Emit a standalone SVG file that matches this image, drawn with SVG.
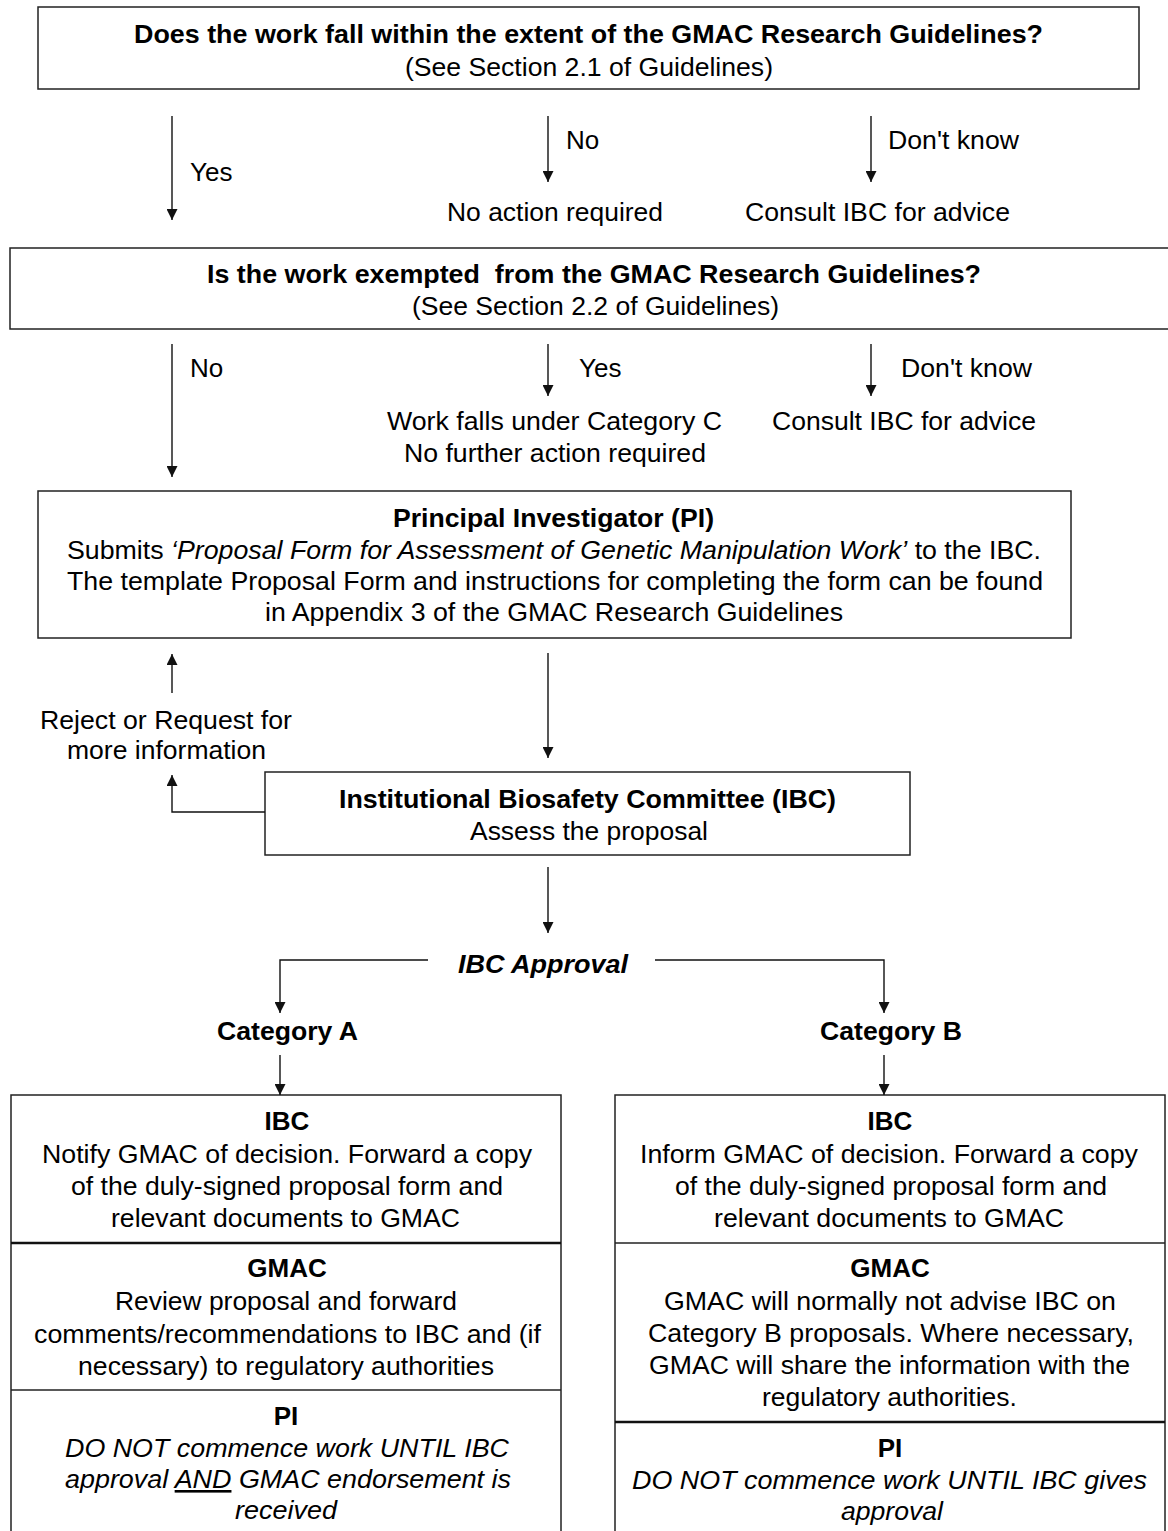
<svg xmlns="http://www.w3.org/2000/svg" width="1168" height="1531" viewBox="0 0 1168 1531">
<style>
  text { font-family: "Liberation Sans", Arial, sans-serif; font-size: 26px; fill: #000; white-space: pre; }
  .b { font-weight: bold; }
  .i { font-style: italic; }
  .m { text-anchor: middle; }
  .box { fill: #fff; stroke: #222; stroke-width: 1.5; }
  .div { stroke: #222; stroke-width: 1.5; }
  .thick { stroke: #111; stroke-width: 2.5; }
  .c { fill: none; stroke: #111; stroke-width: 1.4; }
</style>
<defs>
  <marker id="ah" viewBox="0 0 12 12" refX="12" refY="6" markerWidth="12" markerHeight="11" markerUnits="userSpaceOnUse" orient="auto">
    <path d="M0,0 L12,6 L0,12 z" fill="#111"/>
  </marker>
</defs>
<rect width="1168" height="1531" fill="#fff"/>

<g id="q1">
  <rect class="box" x="38" y="7" width="1101" height="82"/>
  <text class="b m" x="588.5" y="43" textLength="909" lengthAdjust="spacingAndGlyphs">Does the work fall within the extent of the GMAC Research Guidelines?</text>
  <text class="m" x="589" y="76" textLength="368" lengthAdjust="spacingAndGlyphs">(See Section 2.1 of Guidelines)</text>
</g>

<g id="q1-noaction">
  <text class="m" x="555" y="221" textLength="216" lengthAdjust="spacingAndGlyphs">No action required</text>
</g>
<g id="q1-consult">
  <text class="m" x="877.5" y="221" textLength="265" lengthAdjust="spacingAndGlyphs">Consult IBC for advice</text>
</g>

<g id="q2">
  <rect class="box" x="10" y="248" width="1170" height="81"/>
  <text class="b m" x="594" y="283" textLength="774" lengthAdjust="spacingAndGlyphs">Is the work exempted  from the GMAC Research Guidelines?</text>
  <text class="m" x="595.5" y="315" textLength="367" lengthAdjust="spacingAndGlyphs">(See Section 2.2 of Guidelines)</text>
</g>

<g id="q2-catc">
  <text class="m" x="554.5" y="430" textLength="335" lengthAdjust="spacingAndGlyphs">Work falls under Category C</text>
  <text class="m" x="555" y="462" textLength="302" lengthAdjust="spacingAndGlyphs">No further action required</text>
</g>
<g id="q2-consult">
  <text class="m" x="904" y="430" textLength="264" lengthAdjust="spacingAndGlyphs">Consult IBC for advice</text>
</g>

<g id="pi">
  <rect class="box" x="38" y="491" width="1033" height="147"/>
  <text class="b m" x="553.5" y="527" textLength="321" lengthAdjust="spacingAndGlyphs">Principal Investigator (PI)</text>
  <text class="m" x="554" y="559" textLength="974" lengthAdjust="spacingAndGlyphs">Submits <tspan class="i">‘Proposal Form for Assessment of Genetic Manipulation Work’</tspan> to the IBC.</text>
  <text class="m" x="555" y="590" textLength="976" lengthAdjust="spacingAndGlyphs">The template Proposal Form and instructions for completing the form can be found</text>
  <text class="m" x="554" y="621" textLength="578" lengthAdjust="spacingAndGlyphs">in Appendix 3 of the GMAC Research Guidelines</text>
</g>

<g id="reject">
  <text class="m" x="166" y="729" textLength="252" lengthAdjust="spacingAndGlyphs">Reject or Request for</text>
  <text class="m" x="166.5" y="759" textLength="199" lengthAdjust="spacingAndGlyphs">more information</text>
</g>

<g id="ibc">
  <rect class="box" x="265" y="772" width="645" height="83"/>
  <text class="b m" x="587.5" y="808" textLength="497" lengthAdjust="spacingAndGlyphs">Institutional Biosafety Committee (IBC)</text>
  <text class="m" x="589" y="840" textLength="238" lengthAdjust="spacingAndGlyphs">Assess the proposal</text>
</g>

<g id="approval">
  <text class="b i m" x="543" y="973" textLength="170" lengthAdjust="spacingAndGlyphs">IBC Approval</text>
</g>
<g id="cat-a">
  <text class="b m" x="287.5" y="1040" textLength="141" lengthAdjust="spacingAndGlyphs">Category A</text>
</g>
<g id="cat-b">
  <text class="b m" x="891" y="1040" textLength="142" lengthAdjust="spacingAndGlyphs">Category B</text>
</g>

<g id="box-a">
  <rect class="box" x="11" y="1095" width="550" height="445"/>
  <line class="thick" x1="11" y1="1243" x2="561" y2="1243"/>
  <line class="div" x1="11" y1="1390" x2="561" y2="1390"/>
  <text class="b m" x="287" y="1130">IBC</text>
  <text class="m" x="287" y="1163" textLength="490" lengthAdjust="spacingAndGlyphs">Notify GMAC of decision. Forward a copy</text>
  <text class="m" x="287" y="1195" textLength="432" lengthAdjust="spacingAndGlyphs">of the duly-signed proposal form and</text>
  <text class="m" x="285.5" y="1227" textLength="349" lengthAdjust="spacingAndGlyphs">relevant documents to GMAC</text>
  <text class="b m" x="287" y="1277">GMAC</text>
  <text class="m" x="286" y="1310" textLength="342" lengthAdjust="spacingAndGlyphs">Review proposal and forward</text>
  <text class="m" x="287.5" y="1343" textLength="507" lengthAdjust="spacingAndGlyphs">comments/recommendations to IBC and (if</text>
  <text class="m" x="286" y="1375" textLength="416" lengthAdjust="spacingAndGlyphs">necessary) to regulatory authorities</text>
  <text class="b m" x="286" y="1425">PI</text>
  <text class="i m" x="287" y="1457" textLength="444" lengthAdjust="spacingAndGlyphs">DO NOT commence work UNTIL IBC</text>
  <text class="i m" x="288" y="1488" textLength="446" lengthAdjust="spacingAndGlyphs">approval <tspan text-decoration="underline">AND</tspan> GMAC endorsement is</text>
  <text class="i m" x="286" y="1519" textLength="102" lengthAdjust="spacingAndGlyphs">received</text>
</g>

<g id="box-b">
  <rect class="box" x="615" y="1095" width="550" height="445"/>
  <line class="div" x1="615" y1="1243" x2="1165" y2="1243"/>
  <line class="thick" x1="615" y1="1422" x2="1165" y2="1422"/>
  <text class="b m" x="890" y="1130">IBC</text>
  <text class="m" x="889" y="1163" textLength="498" lengthAdjust="spacingAndGlyphs">Inform GMAC of decision. Forward a copy</text>
  <text class="m" x="891" y="1195" textLength="432" lengthAdjust="spacingAndGlyphs">of the duly-signed proposal form and</text>
  <text class="m" x="889" y="1227" textLength="350" lengthAdjust="spacingAndGlyphs">relevant documents to GMAC</text>
  <text class="b m" x="890" y="1277">GMAC</text>
  <text class="m" x="890" y="1310" textLength="452" lengthAdjust="spacingAndGlyphs">GMAC will normally not advise IBC on</text>
  <text class="m" x="891" y="1342" textLength="486" lengthAdjust="spacingAndGlyphs">Category B proposals. Where necessary,</text>
  <text class="m" x="889.5" y="1374" textLength="481" lengthAdjust="spacingAndGlyphs">GMAC will share the information with the</text>
  <text class="m" x="889.5" y="1406" textLength="255" lengthAdjust="spacingAndGlyphs">regulatory authorities.</text>
  <text class="b m" x="890" y="1457">PI</text>
  <text class="i m" x="889.5" y="1489" textLength="515" lengthAdjust="spacingAndGlyphs">DO NOT commence work UNTIL IBC gives</text>
  <text class="i m" x="892" y="1520" textLength="102" lengthAdjust="spacingAndGlyphs">approval</text>
</g>

<g id="connectors">
  <line class="c" x1="172" y1="116" x2="172" y2="220" marker-end="url(#ah)"/>
  <line class="c" x1="548" y1="116" x2="548" y2="182" marker-end="url(#ah)"/>
  <line class="c" x1="871" y1="116" x2="871" y2="182" marker-end="url(#ah)"/>
  <line class="c" x1="172" y1="344" x2="172" y2="477" marker-end="url(#ah)"/>
  <line class="c" x1="548" y1="344" x2="548" y2="396" marker-end="url(#ah)"/>
  <line class="c" x1="871" y1="344" x2="871" y2="396" marker-end="url(#ah)"/>
  <line class="c" x1="548" y1="653" x2="548" y2="758" marker-end="url(#ah)"/>
  <line class="c" x1="172" y1="693" x2="172" y2="654" marker-end="url(#ah)"/>
  <polyline class="c" points="265,812 172,812 172,775" marker-end="url(#ah)"/>
  <line class="c" x1="548" y1="867" x2="548" y2="933" marker-end="url(#ah)"/>
  <polyline class="c" points="428,960 280,960 280,1013" marker-end="url(#ah)"/>
  <polyline class="c" points="655,960 884,960 884,1013" marker-end="url(#ah)"/>
  <line class="c" x1="280" y1="1055" x2="280" y2="1095" marker-end="url(#ah)"/>
  <line class="c" x1="884" y1="1055" x2="884" y2="1095" marker-end="url(#ah)"/>
  <text x="190" y="181">Yes</text>
  <text x="566" y="149">No</text>
  <text x="888" y="149" textLength="131" lengthAdjust="spacingAndGlyphs">Don't know</text>
  <text x="190" y="377">No</text>
  <text x="579" y="377">Yes</text>
  <text x="901" y="377" textLength="131" lengthAdjust="spacingAndGlyphs">Don't know</text>
</g>
</svg>
